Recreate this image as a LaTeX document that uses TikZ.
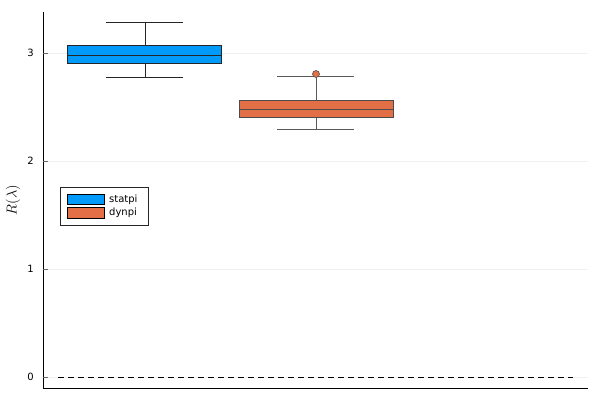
\documentclass[tikz,border=0pt]{standalone}
\usepackage{fontspec}
\setsansfont{DejaVu Sans}
\definecolor{jblue}{HTML}{009AFA}
\definecolor{jorange}{HTML}{E26F46}
\begin{document}
\begin{tikzpicture}[x=1pt,y=-1pt,
  box/.style={draw=black!85,line width=0.8pt},
  whisk/.style={draw=black!85,line width=0.7pt},
  grid/.style={draw=black!6,line width=0.6pt},
  ticklab/.style={font=\sffamily\fontsize{10}{11}\selectfont,anchor=east,inner sep=0pt},
  leglab/.style={font=\sffamily\fontsize{10}{11}\selectfont,anchor=west,inner sep=0pt}]
\useasboundingbox (0,0) rectangle (600,400);
% grid
\foreach \yy in {53,161,269,377} \draw[grid] (43,\yy) -- (588,\yy);
% axes
\coordinate (o) at (43,388);
\coordinate (top) at (43,12);
\coordinate (right) at (588,388);
\draw[line width=0.7pt] (top) -- (o) -- (right);
% ticks and labels
\foreach \yy/\lab in {53/3,161/2,269/1,377/0}{
  \draw[line width=0.6pt,black!60] (43,\yy) -- (48,\yy);
  \node[ticklab] (t\lab) at (34,\yy) {\lab};
}
\node[rotate=90,font=\fontsize{15}{16}\selectfont,inner sep=0pt] (ylab) at (13,200) {$R(\lambda)$};
% dashed zero line
\coordinate (d0) at (58,377);
\coordinate (d1) at (573,377);
\draw[dashed,line width=0.8pt,dash pattern=on 6pt off 4pt] (d0) -- (d1);
% box 1 statpi
\coordinate (w1t) at (145,22);
\coordinate (w1b) at (145,77);
\draw[whisk] (w1t) -- (145,45) (145,63) -- (w1b);
\draw[whisk] (106,22) -- (183,22) (106,77) -- (183,77);
\draw[box,fill=jblue] (67,45) rectangle (221,63);
\draw[box] (67,55) -- (221,55);
% box 2 dynpi
\draw[whisk,draw=black!65] (316,76) -- (316,100) (316,117) -- (316,129);
\draw[whisk,draw=black!65] (277,76) -- (354,76) (277,129) -- (354,129);
\draw[box,draw=black!70,fill=jorange] (239,100) rectangle (393,117);
\draw[box,draw=black!70] (239,109) -- (393,109);
\node[circle,draw=black!70,fill=jorange,inner sep=0pt,minimum size=7pt,line width=0.6pt] (out) at (316,74) {};
% legend
\node[draw=black!85,line width=0.6pt,minimum width=88pt,minimum height=38pt,inner sep=0pt] (leg) at (104,206) {};
\draw[line width=0.6pt,fill=jblue] (67,194) rectangle (104,204);
\draw[line width=0.6pt,fill=jorange] (67,207) rectangle (104,218);
\node[leglab] (l1) at (109,199.5) {statpi};
\node[leglab] (l2) at (109,212.5) {dynpi};
\end{tikzpicture}
\end{document}
